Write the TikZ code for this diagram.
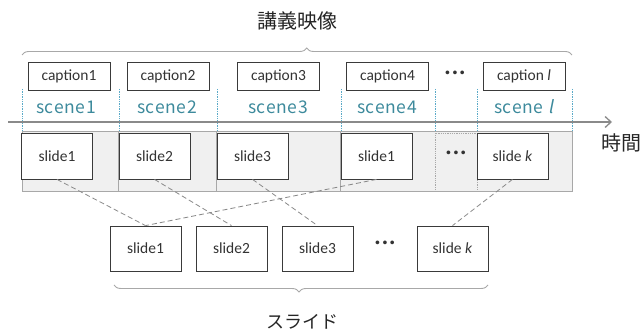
\documentclass[tikz,border=0pt]{standalone}
\usepackage{fontspec}
\setmainfont{Carlito}
\newfontfamily\jpfont{Noto Sans CJK JP}
\newfontfamily\scenefont{Noto Sans CJK JP}[LetterSpace=4,AutoFakeSlant=0.2]
\usetikzlibrary{arrows.meta,decorations.pathreplacing,calc}
\definecolor{boxline}{HTML}{3A3A3A}
\definecolor{txt}{HTML}{333333}
\definecolor{scenecol}{HTML}{3D8A9C}
\definecolor{dotblue}{HTML}{5BAAC8}
\definecolor{axisgray}{HTML}{8A8A8A}
\definecolor{bandfill}{HTML}{F0F0F0}
\definecolor{bandline}{HTML}{A8A8A8}
\tikzset{
  capbox/.style={draw=boxline,line width=0.8pt,minimum width=82pt,minimum height=28pt,inner sep=0pt,text=txt,font=\fontsize{15.5}{15.5}\selectfont},
  slidebox/.style={draw=boxline,line width=0.8pt,fill=white,minimum width=71pt,minimum height=46pt,inner sep=0pt,text=txt,font=\fontsize{15.5}{15.5}\selectfont},
  scenelbl/.style={text=scenecol,inner sep=0pt,font=\scenefont\fontsize{17.5}{17.5}\selectfont},
  dotsl/.style={text=txt,inner sep=0pt,font=\bfseries\fontsize{20}{20}\selectfont},
  jplbl/.style={text=black!85,inner sep=0pt,font=\jpfont\fontsize{20}{20}\selectfont},
  sep/.style={dotblue,densely dotted,line width=0.7pt},
  conn/.style={axisgray,dash pattern=on 5pt off 3pt,line width=0.8pt},
  bracestyle/.style={decorate,decoration={brace,amplitude=7pt,aspect=0.5},bandline,line width=0.9pt},
}
\begin{document}
\begin{tikzpicture}[x=1pt,y=-1pt]
\useasboundingbox (0,0) rectangle (640,336);
% title and top brace
\node[jplbl] (title) at (297,21) {講義映像};
\coordinate (tbl) at (22,55);
\coordinate (tbr) at (572,55);
\draw[bracestyle,decoration={aspect=0.5176}] (tbl) -- (tbr);
% captions
\node[capbox] (c1) at (69,76) {caption1};
\node[capbox] (c2) at (168,76) {caption2};
\node[capbox] (c3) at (278.5,76) {caption3};
\node[capbox] (c4) at (387.5,76) {caption4};
\node[dotsl] (cd) at (455,75) {·\hspace{2pt}·\hspace{2pt}·};
\node[capbox] (cl) at (524,76) {caption \textit{l}};
% scenes
\node[scenelbl] (s1) at (66,107) {scene1};
\node[scenelbl] (s2) at (167,107) {scene2};
\node[scenelbl] (s3) at (278,107) {scene3};
\node[scenelbl] (s4) at (387,107) {scene4};
\node[scenelbl] (sl) at (524,107) {scene \textit{l}};
% band
\node[draw=bandline,fill=bandfill,line width=0.7pt,minimum width=550pt,minimum height=60pt,inner sep=0pt] (band) at (297,161) {};
% top slides
\node[slidebox,minimum height=46pt] (t1) at (57,156) {slide1};
\node[slidebox] (t2) at (154.5,156) {slide2};
\node[slidebox] (t3) at (252.5,156) {slide3};
\node[slidebox] (t4) at (376.5,156) {slide1};
\node[draw=bandline,densely dotted,line width=0.8pt,minimum width=42pt,minimum height=58pt,inner sep=0pt] (tdbox) at (456,162) {};
\node[dotsl] (td) at (456,155) {·\hspace{2pt}·\hspace{2pt}·};
\node[slidebox] (tk) at (512.5,156) {slide \textit{k}};
% dividers in band
\draw[bandline,line width=0.7pt] (t2.west |- band.north) -- (t2.west |- band.south);
\draw[bandline,line width=0.7pt] (t3.west |- band.north) -- (t3.west |- band.south);
\draw[bandline,line width=0.7pt] (t4.west |- band.north) -- (t4.west |- band.south);
% scene separators
\foreach \xx in {22,119,217,341,435,477,572}{
  \draw[sep] (\xx,89) -- (\xx,131);
}
% axis
\coordinate (axL) at (8,122);
\coordinate (axR) at (612,122);
\draw[axisgray,line width=1.6pt,-{Straight Barb[length=6pt,width=11pt,line width=1.3pt]}] (axL) -- (axR);
\node[jplbl] (time) at (621,143) {時間};
% bottom slides
\node[slidebox,minimum height=45pt] (b1) at (145.5,248.5) {slide1};
\node[slidebox,minimum height=45pt] (b2) at (231.5,248.5) {slide2};
\node[slidebox,minimum height=45pt] (b3) at (317.5,248.5) {slide3};
\node[dotsl] (bd) at (385,245) {·\hspace{2pt}·\hspace{2pt}·};
\node[slidebox,minimum height=45pt] (bk) at (452.5,248.5) {slide \textit{k}};
% connectors
\draw[conn] (t1.south) -- (b1.north);
\draw[conn] (t2.south) -- (b2.north);
\draw[conn] (t3.south) -- (b3.north);
\draw[conn] (t4.south) -- (b1.north);
\draw[conn] (tk.south) -- (bk.north);
% bottom brace
\coordinate (bbl) at (114,285);
\coordinate (bbr) at (488,285);
\draw[bracestyle,decoration={aspect=0.5053}] (bbr) -- (bbl);
\node[jplbl,font=\jpfont\fontsize{18}{18}\selectfont] (slides) at (302,322) {スライド};
\end{tikzpicture}
\end{document}
